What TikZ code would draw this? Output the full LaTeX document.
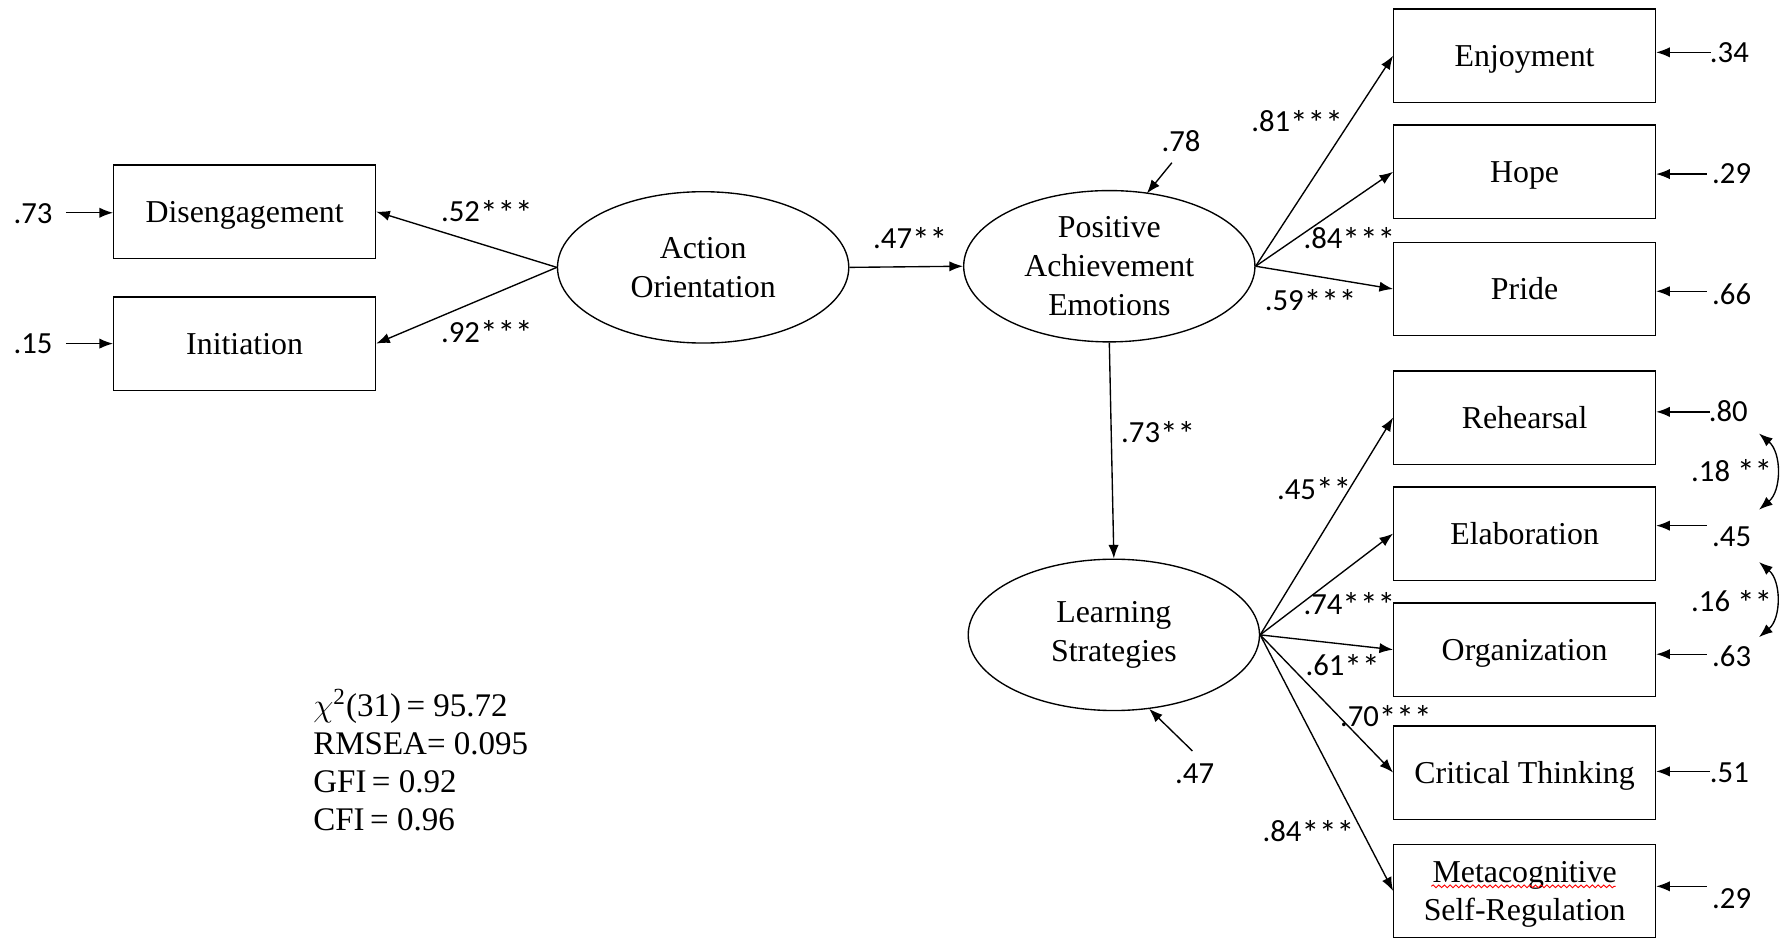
\documentclass[tikz,border=0pt]{standalone}
\usepackage{fontspec}
\setmainfont{Liberation Serif}
\newfontfamily\numfont{Carlito}
\newcommand\sigstars[1]{{\fontsize{15.5}{16}\selectfont\raisebox{-1.6pt}{#1}}}
\usetikzlibrary{arrows.meta,shapes.geometric,decorations.pathmorphing}
\begin{document}
\begin{tikzpicture}[x=0.5pt,y=-0.5pt,
  box/.style={draw, line width=0.6pt, minimum width=115pt, minimum height=41pt, inner sep=0pt,
    font=\fontsize{14}{17}\selectfont, align=center, text height=9.2pt, text depth=0pt},
  box2/.style={draw, line width=0.6pt, minimum width=115pt, minimum height=41pt, inner sep=0pt,
    font=\fontsize{14}{17}\selectfont, align=center, text depth=0pt},
  latent/.style={draw, ellipse, line width=0.6pt, minimum width=128pt, minimum height=66.5pt, inner sep=0pt,
    font=\fontsize{14}{17}\selectfont, align=center},
  num/.style={font={\numfont\fontsize{13.5}{16}\selectfont}, inner sep=0pt},
  arr/.style={-{Latex[length=6pt,width=4.5pt]}, line width=0.6pt},
  cov/.style={{Latex[length=6pt,width=4.5pt]}-{Latex[length=6pt,width=4.5pt]}, line width=0.6pt},
]
\path[use as bounding box] (0,0) rectangle (1568,824);

% left indicators
\node[box] (dis) at (215,186) {Disengagement};
\node[box] (ini) at (215,302) {Initiation};

% latent variables
\node[latent] (ao)  at (618,235) {Action\\Orientation};
\node[latent] (pae) at (975,234) {Positive\\Achievement\\Emotions};
\node[latent] (ls)  at (979,558) {Learning\\Strategies};

% right indicators
\node[box] (enj) at (1340,49)  {Enjoyment};
\node[box] (hop) at (1340,151) {Hope};
\node[box] (pri) at (1340,254) {Pride};
\node[box] (reh) at (1340,367) {Rehearsal};
\node[box] (ela) at (1340,469) {Elaboration};
\node[box] (org) at (1340,571) {Organization};
\node[box] (cri) at (1340,679) {Critical Thinking};
\node[box2] (met) at (1340,783) {Metacognitive\\Self-Regulation};
\draw[red, line width=0.4pt, decorate, decoration={snake, amplitude=0.6pt, segment length=2.5pt}]
  (1258,779) -- (1420,779);

% structural paths
\draw[arr] (ao.west) -- (dis.east);
\draw[arr] (ao.west) -- (ini.east);
\draw[arr] (ao.east) -- (pae.west);
\draw[arr] (pae.south) -- (ls.north);
\draw[arr] (pae.east) -- (enj.west);
\draw[arr] (pae.east) -- (hop.west);
\draw[arr] (pae.east) -- (pri.west);
\draw[arr] (ls.east) -- (reh.west);
\draw[arr] (ls.east) -- (ela.west);
\draw[arr] (ls.east) -- (org.west);
\draw[arr] (ls.east) -- (cri.west);
\draw[arr] (ls.east) -- (met.west);

% path coefficients
\node[num] (l52) at (428,187) {.52\sigstars{***}};
\node[num] (l92) at (428,293) {.92\sigstars{***}};
\node[num] (l47) at (800,211) {.47\sigstars{**}};
\node[num] (l73) at (1018,381) {.73\sigstars{**}};
\node[num] (l81) at (1140,108) {.81\sigstars{***}};
\node[num] (l84a) at (1186,211) {.84\sigstars{***}};
\node[num] (l59) at (1152,265) {.59\sigstars{***}};
\node[num] (l45) at (1155,431) {.45\sigstars{**}};
\node[num] (l74) at (1186,532) {.74\sigstars{***}};
\node[num] (l61) at (1180,586) {.61\sigstars{**}};
\node[num] (l70) at (1218,631) {.70\sigstars{***}};
\node[num] (l84b) at (1150,732) {.84\sigstars{***}};

% residuals, left
\node[num] (r73) at (29,188) {.73};
\node[num] (r15) at (29,302) {.15};
\coordinate (s73) at (58,187);
\coordinate (s15) at (58,302);
\draw[arr] (s73) -- (s73 -| dis.west);
\draw[arr] (s15) -- (s15 -| ini.west);

% residuals, latent
\node[num] (r78) at (1038,124) {.78};
\coordinate (s78) at (1030,143);
\draw[arr] (s78) -- (1008,170);
\node[num] (r47) at (1050,680) {.47};
\coordinate (s47) at (1048,660);
\draw[arr] (s47) -- (1010,623);

% residuals, right
\node[num] (r34) at (1520,46) {.34};
\node[num] (r29a) at (1522,153) {.29};
\node[num] (r66) at (1522,259) {.66};
\node[num] (r80) at (1519,361) {.80};
\node[num] (r45) at (1522,472) {.45};
\node[num] (r63) at (1522,577) {.63};
\node[num] (r51) at (1520,679) {.51};
\node[num] (r29b) at (1522,790) {.29};
\coordinate (s34) at (1504,46);
\coordinate (s29a) at (1500,153);
\coordinate (s66) at (1500,256);
\coordinate (s80) at (1503,362);
\coordinate (s45) at (1500,462);
\coordinate (s63) at (1500,575);
\coordinate (s51) at (1503,678);
\coordinate (s29b) at (1500,779);
\draw[arr] (s34) -- (s34 -| enj.east);
\draw[arr] (s29a) -- (s29a -| hop.east);
\draw[arr] (s66) -- (s66 -| pri.east);
\draw[arr] (s80) -- (s80 -| reh.east);
\draw[arr] (s45) -- (s45 -| ela.east);
\draw[arr] (s63) -- (s63 -| org.east);
\draw[arr] (s51) -- (s51 -| cri.east);
\draw[arr] (s29b) -- (s29b -| met.east);

% covariances
\coordinate (c1a) at (1546,381);
\coordinate (c1b) at (1546,448);
\coordinate (c2a) at (1546,494);
\coordinate (c2b) at (1546,560);
\draw[cov] (c1a) to[bend left=50] (c1b);
\draw[cov] (c2a) to[bend left=50] (c2b);
\node[num] (k18) at (1522,415) {.18 \sigstars{**}};
\node[num] (k16) at (1522,530) {.16 \sigstars{**}};

% fit statistics
\node[anchor=west, align=left, inner sep=0pt, font=\fontsize{14.5}{16.8}\selectfont] (fit) at (275,668)
  {$\chi$\textsuperscript{2}(31)\,= 95.72\\RMSEA= 0.095\\GFI\,= 0.92\\CFI\,= 0.96};
\end{tikzpicture}
\end{document}
